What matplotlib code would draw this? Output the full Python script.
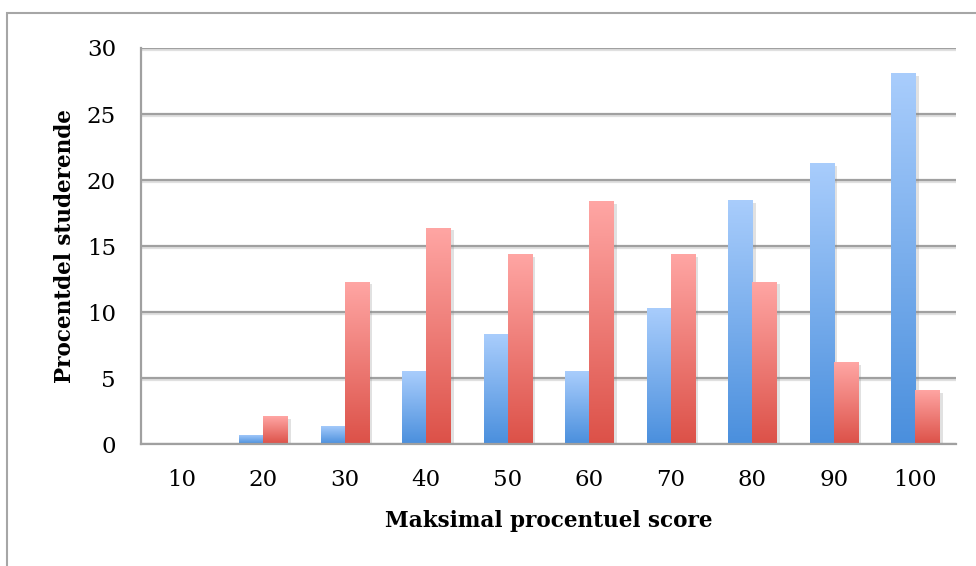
import numpy as np
import matplotlib
matplotlib.use("Agg")
import matplotlib.pyplot as plt
from matplotlib.colors import LinearSegmentedColormap
from matplotlib.patches import Rectangle
import matplotlib.patheffects as pe

# ----------------------------
# Data
# ----------------------------
categories = ["10", "20", "30", "40", "50", "60", "70", "80", "90", "100"]
blue_vals = [0, 0.7, 1.4, 5.5, 8.3, 5.5, 10.3, 18.5, 21.3, 28.1]
red_vals = [0, 2.1, 12.3, 16.4, 14.4, 18.4, 14.4, 12.3, 6.2, 4.1]
yticks = [0, 5, 10, 15, 20, 25, 30]

plt.rcParams["font.family"] = ["DejaVu Serif"]

blue_cmap = LinearSegmentedColormap.from_list("b", ["#4a8fdd", "#a9cdfc"])
red_cmap = LinearSegmentedColormap.from_list("r", ["#dc5148", "#ffa6a4"])

fig = plt.figure(figsize=(9.76, 5.66), dpi=100)
ax = fig.add_axes([0.1445, 0.2155, 0.8350, 0.6997])

# outer chart frame
fig.add_artist(Rectangle((7 / 976, -0.2), 1.3, 1.2 - 13 / 566, transform=fig.transFigure,
                         fill=False, edgecolor="#a6a6a6", lw=1.5))

x = np.arange(len(categories))
w = 0.295
grad = np.linspace(0, 1, 256).reshape(-1, 1)


def gradient_bars(xpos, vals, cmap):
    bars = ax.bar(xpos, vals, width=w, color=cmap(0.0), zorder=3, linewidth=0,
                  path_effects=[pe.SimplePatchShadow(offset=(2.5, -2), shadow_rgbFace="#888888", alpha=0.25),
                                pe.Normal()])
    for b in bars:
        h = b.get_height()
        if h <= 0:
            continue
        x0 = b.get_x()
        im = ax.imshow(grad, extent=[x0, x0 + b.get_width(), 0, h], origin="lower",
                       cmap=cmap, aspect="auto", interpolation="bicubic", zorder=4)
        im.set_clip_path(b)
    return bars


gradient_bars(x - w / 2, blue_vals, blue_cmap)
gradient_bars(x + w / 2, red_vals, red_cmap)

ax.set_xlim(-0.5, len(categories) - 0.5)
ax.set_ylim(0, 30)
ax.set_yticks(yticks)
ax.set_xticks(x)
ax.set_xticklabels(categories)
ax.tick_params(axis="both", length=0, labelsize=16.5, colors="black")
ax.tick_params(axis="x", pad=18)
ax.tick_params(axis="y", pad=18)

ax.yaxis.grid(True, color="#a0a0a0", lw=1.6,
              path_effects=[pe.SimpleLineShadow(offset=(0, -1.5), shadow_color="#cccccc", alpha=0.6), pe.Normal()])
ax.set_axisbelow(True)
for s in ["top", "right"]:
    ax.spines[s].set_visible(False)
for s in ["left", "bottom"]:
    ax.spines[s].set_color("#a0a0a0")
    ax.spines[s].set_linewidth(1.6)
ax.spines["bottom"].set_zorder(5)

ax.set_xlabel("Maksimal procentuel score", fontsize=15.5, fontweight="bold", labelpad=14)
ax.set_ylabel("Procentdel studerende", fontsize=15.5, fontweight="bold", labelpad=8)

fig.savefig("out.png", dpi=100)
